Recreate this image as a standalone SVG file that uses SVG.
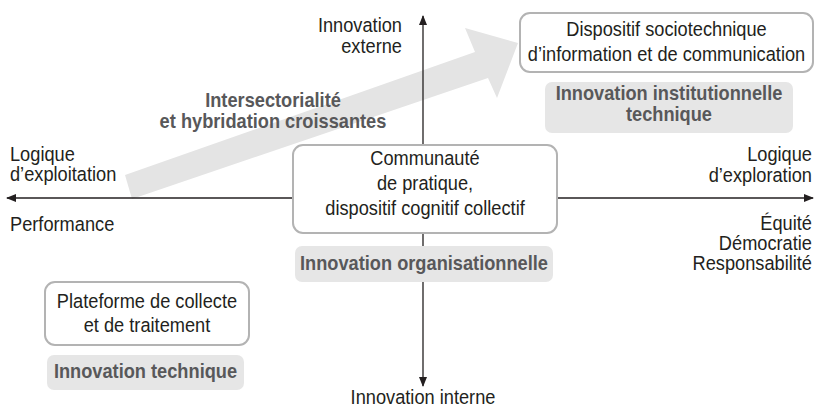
<svg xmlns="http://www.w3.org/2000/svg" width="816" height="410" viewBox="0 0 816 410">
  <defs>
    <style>
      text { font-family: "Liberation Sans", Arial, sans-serif; font-size: 19.5px; fill: #231f20;
             transform-box: fill-box; transform: scaleX(0.935); transform-origin: 0% 50%; }
      .mid, .tag { text-anchor: middle; transform-origin: 50% 50%; }
      .end { text-anchor: end; transform-origin: 100% 50%; }
      .tag { font-weight: bold; fill: #58585a; }
      .node { fill: #ffffff; stroke: #b3b3b3; stroke-width: 2; }
      .chip { fill: #e6e6e6; }
      .axis { stroke: #231f20; stroke-width: 1.3; fill: none; }
    </style>
    <marker id="tip" viewBox="0 0 10 10" refX="9" refY="5" markerWidth="10" markerHeight="10" markerUnits="userSpaceOnUse" orient="auto">
      <path d="M0,1 L10,5 L0,9 Z" fill="#231f20"/>
    </marker>
  </defs>

  <!-- broad trend arrow -->
  <polygon id="trend" points="132,199 125,175 475,52 465,28 518,43 497,98 488,78" fill="#e4e4e4"/>

  <!-- axes -->
  <g id="connectors">
    <line class="axis" x1="423" y1="198" x2="423" y2="16" marker-end="url(#tip)"/>
    <line class="axis" x1="423" y1="198" x2="423" y2="386" marker-end="url(#tip)"/>
    <line class="axis" x1="423" y1="198" x2="7" y2="198" marker-end="url(#tip)"/>
    <line class="axis" x1="423" y1="198" x2="813" y2="198" marker-end="url(#tip)"/>
  </g>

  <!-- axis labels -->
  <g id="axis-labels">
    <text class="end" x="402" y="32">Innovation</text>
    <text class="end" x="402" y="53">externe</text>
    <text class="mid" x="423" y="404">Innovation interne</text>
    <text x="10" y="161">Logique</text>
    <text x="10" y="181">d’exploitation</text>
    <text x="10" y="231">Performance</text>
    <text class="end" x="812" y="161">Logique</text>
    <text class="end" x="812" y="182">d’exploration</text>
    <text class="end" x="812" y="230">Équité</text>
    <text class="end" x="812" y="250">Démocratie</text>
    <text class="end" x="812" y="270">Responsabilité</text>
  </g>

  <g id="trend-label">
    <text class="tag" x="273" y="107">Intersectorialité</text>
    <text class="tag" x="273" y="128">et hybridation croissantes</text>
  </g>

  <g id="sociotechnique">
    <rect class="node" x="520" y="13" width="293" height="59" rx="10"/>
    <text class="mid" x="666.5" y="36">Dispositif sociotechnique</text>
    <text class="mid" x="666.5" y="61">d’information et de communication</text>
  </g>

  <g id="institutionnelle">
    <rect class="chip" x="545" y="82" width="248" height="51" rx="7"/>
    <text class="tag" x="669" y="100">Innovation institutionnelle</text>
    <text class="tag" x="669" y="121">technique</text>
  </g>

  <g id="communaute">
    <rect class="node" x="293" y="145" width="264" height="88" rx="10"/>
    <text class="mid" x="425" y="165">Communauté</text>
    <text class="mid" x="425" y="190">de pratique,</text>
    <text class="mid" x="425" y="215">dispositif cognitif collectif</text>
  </g>

  <g id="organisationnelle">
    <rect class="chip" x="295" y="246" width="258" height="36" rx="7"/>
    <text class="tag" x="424" y="270">Innovation organisationnelle</text>
  </g>

  <g id="plateforme">
    <rect class="node" x="45" y="282" width="204" height="63" rx="10"/>
    <text class="mid" x="147" y="308">Plateforme de collecte</text>
    <text class="mid" x="147" y="332">et de traitement</text>
  </g>

  <g id="technique">
    <rect class="chip" x="47" y="355" width="197" height="35" rx="7"/>
    <text class="tag" x="145.5" y="378">Innovation technique</text>
  </g>
</svg>
